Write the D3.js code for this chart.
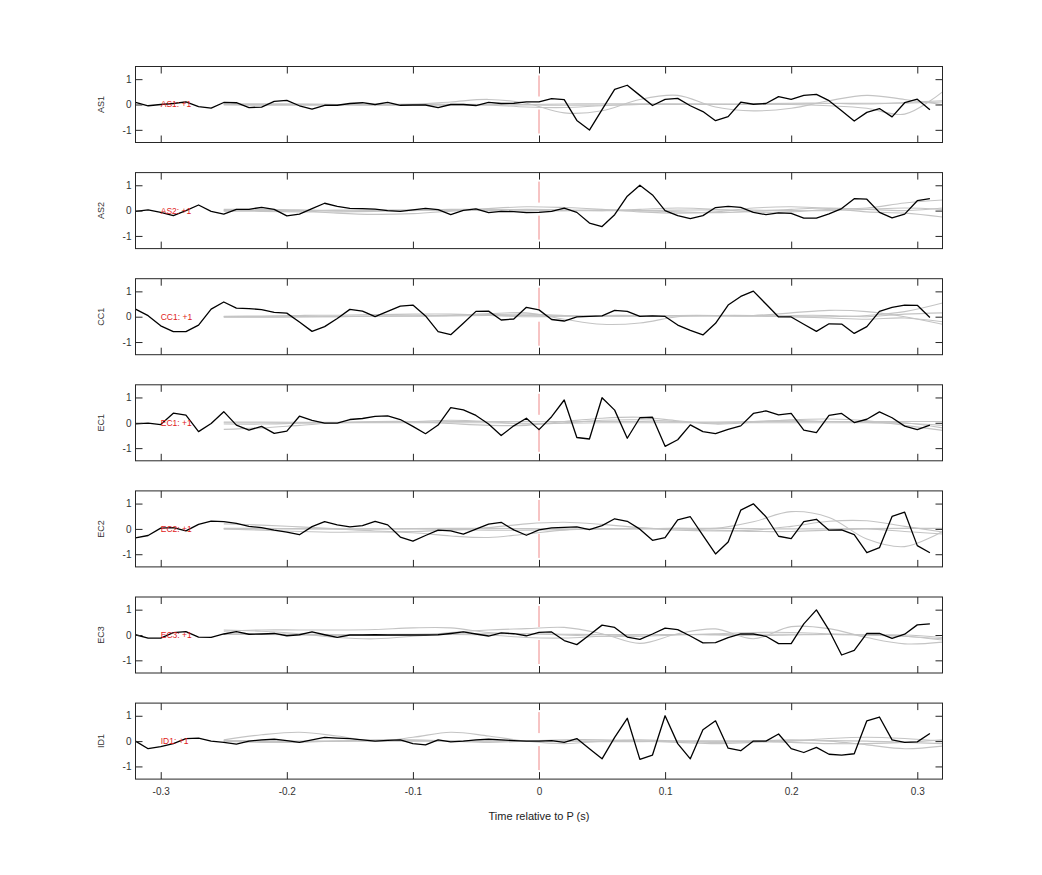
<!DOCTYPE html>
<html><head><meta charset="utf-8">
<script src="https://cdn.jsdelivr.net/npm/d3@7"></script>
<style>body{margin:0;background:#fff;} svg{display:block;font-family:"Liberation Sans",Arial,Helvetica,sans-serif;}</style>
</head><body><svg id="c" width="1042" height="875"></svg>
<script>
const channels = ["AS1","AS2","CC1","EC1","EC2","EC3","ID1"];
const xTicks = [-0.3,-0.2,-0.1,0,0.1,0.2,0.3];
const xTickLabels = ["-0.3","-0.2","-0.1","0","0.1","0.2","0.3"];
const yTicks = [-1,0,1];
const yTickLabels = ["-1","0","1"];
const xTitle = "Time relative to P (s)";

const times = [-0.32,-0.31,-0.30,-0.29,-0.28,-0.27,-0.26,-0.25,-0.24,-0.23,-0.22,-0.21,-0.20,-0.19,-0.18,-0.17,-0.16,-0.15,-0.14,-0.13,-0.12,-0.11,-0.10,-0.09,-0.08,-0.07,-0.06,-0.05,-0.04,-0.03,-0.02,-0.01,
 0.00,0.01,0.02,0.03,0.04,0.05,0.06,0.07,0.08,0.09,0.10,0.11,0.12,0.13,0.14,0.15,0.16,0.17,0.18,0.19,0.20,0.21,0.22,0.23,0.24,0.25,0.26,0.27,0.28,0.29,0.30,0.31];

const blackAS1 = [0.08,-0.05,0,0.04,0.1,-0.08,-0.14,0.08,0.07,-0.12,-0.1,0.12,0.16,-0.05,-0.18,-0.03,-0.03,0.04,0.07,0,0.08,-0.03,-0.02,-0.02,-0.12,0,0,-0.04,0.08,0.04,0.05,0.1,
 0.1,0.23,0.19,-0.63,-1.01,-0.2,0.6,0.76,0.36,-0.04,0.2,0.24,-0.05,-0.28,-0.64,-0.48,0.09,0.01,0.04,0.31,0.2,0.36,0.4,0.15,-0.25,-0.65,-0.31,-0.16,-0.49,0.07,0.21,-0.21];
const blackAS2 = [-0.03,0.03,-0.07,-0.2,0.0,0.22,-0.03,-0.14,0.05,0.05,0.13,0.05,-0.21,-0.14,0.08,0.29,0.17,0.09,0.08,0.06,0.0,-0.03,0.03,0.09,0.04,-0.16,0.01,0.07,-0.08,-0.03,-0.04,-0.08,
 -0.07,-0.03,0.1,-0.07,-0.49,-0.63,-0.16,0.57,1.0,0.62,0.0,-0.2,-0.32,-0.2,0.12,0.17,0.13,-0.07,-0.16,-0.09,-0.11,-0.3,-0.3,-0.13,0.08,0.47,0.45,-0.07,-0.29,-0.14,0.39,0.47];
const blackCC1 = [0.3,0.04,-0.36,-0.59,-0.59,-0.33,0.3,0.58,0.34,0.32,0.28,0.17,0.14,-0.21,-0.58,-0.39,-0.07,0.29,0.22,0.0,0.21,0.42,0.46,0.03,-0.59,-0.71,-0.26,0.21,0.22,-0.13,-0.09,0.37,
 0.27,-0.11,-0.17,-0.01,0.01,0.03,0.25,0.21,0.01,0.03,0.01,-0.33,-0.54,-0.72,-0.26,0.46,0.8,1.01,0.5,-0.01,-0.01,-0.3,-0.58,-0.28,-0.29,-0.66,-0.39,0.21,0.37,0.46,0.45,-0.03];
const blackEC1 = [-0.04,-0.01,-0.07,0.38,0.3,-0.35,-0.03,0.44,-0.09,-0.29,-0.14,-0.42,-0.33,0.26,0.1,-0.01,-0.01,0.13,0.17,0.25,0.27,0.13,-0.14,-0.43,-0.09,0.6,0.51,0.29,-0.05,-0.5,-0.12,0.18,
 -0.27,0.24,0.9,-0.58,-0.64,0.99,0.5,-0.61,0.2,0.22,-0.93,-0.67,-0.08,-0.35,-0.43,-0.26,-0.12,0.37,0.47,0.31,0.37,-0.29,-0.39,0.29,0.37,0.01,0.14,0.43,0.2,-0.13,-0.27,-0.09];
const blackEC2 = [-0.35,-0.26,0.03,0.05,-0.08,0.18,0.31,0.29,0.22,0.1,0.05,-0.05,-0.13,-0.23,0.09,0.29,0.16,0.08,0.13,0.3,0.16,-0.32,-0.48,-0.26,-0.05,-0.08,-0.21,-0.01,0.19,0.26,-0.04,-0.25,
 -0.04,0.04,0.06,0.08,-0.03,0.13,0.4,0.3,-0.01,-0.45,-0.34,0.36,0.48,-0.26,-0.99,-0.52,0.74,0.99,0.48,-0.29,-0.38,0.29,0.38,-0.05,-0.04,-0.23,-0.94,-0.74,0.49,0.66,-0.66,-0.94];
const blackEC3 = [0.01,-0.12,-0.12,0.09,0.13,-0.08,-0.09,0.04,0.13,0.03,0.04,0.06,-0.03,0.01,0.12,0.01,-0.09,0.0,0.0,0.01,0.0,0.0,0.0,0.0,0.01,0.06,0.12,0.04,-0.04,0.08,0.05,-0.03,
 0.1,0.12,-0.22,-0.38,0.0,0.39,0.3,-0.08,-0.17,0.04,0.27,0.21,-0.04,-0.31,-0.3,-0.1,0.04,0.04,-0.05,-0.34,-0.34,0.44,0.99,0.19,-0.79,-0.61,0.06,0.06,-0.13,0.03,0.4,0.44];
const blackID1 = [0.0,-0.3,-0.22,-0.1,0.1,0.12,0.0,-0.05,-0.12,0.0,0.05,0.08,0.02,-0.05,0.05,0.15,0.12,0.1,0.05,0.0,0.03,0.05,-0.1,-0.15,0.05,-0.03,0.0,0.05,0.08,0.05,0.02,0.0,
 0.0,0.02,-0.05,0.1,-0.3,-0.7,0.15,0.9,-0.72,-0.55,1.0,-0.1,-0.7,0.45,0.8,-0.28,-0.38,0.0,0.0,0.28,-0.3,-0.45,-0.25,-0.52,-0.55,-0.5,0.8,0.95,0.05,-0.05,-0.03,0.3];

const grayTimes = [-0.25,-0.22,-0.19,-0.16,-0.13,-0.10,-0.07,-0.04,-0.01,0.02,0.05,0.08,0.11,0.14,0.17,0.20,0.23,0.26,0.29,0.32];

const grayAS1 = [
 [0,0.02,0.02,0,-0.03,0,0.1,0.2,0.05,-0.33,-0.25,0.2,0.36,-0.1,-0.25,-0.15,0.15,0.36,0.2,0.0],
 [0,0,0,0,0,0,0,-0.02,-0.1,-0.12,-0.05,0,0.02,0.02,0,0,-0.05,-0.15,-0.38,0.5],
 [0.02,0.02,0.01,0,-0.02,-0.03,-0.03,-0.02,0,0.02,0.03,0.03,0.02,0,0,0.02,0.04,0.05,0.05,0.1],
 [-0.02,-0.03,-0.03,-0.02,0,0.02,0.01,0,-0.02,-0.03,-0.02,0,0,0.01,0.03,0.05,0.05,0.02,0.08,0.15]];
const grayAS2 = [
 [0,0.02,0,-0.1,-0.15,-0.12,-0.02,0.08,0.15,0.12,0.05,-0.05,-0.1,-0.05,0.1,0.15,0.08,-0.05,-0.1,-0.25],
 [0.05,0.05,0.03,0,0,0.02,0.05,0.05,0.02,0,0,0.05,0.1,0.05,-0.05,-0.05,0.05,0.1,0.3,0.42],
 [-0.02,-0.03,-0.05,-0.05,-0.03,0,0.02,0,-0.02,0,0.03,0,-0.05,-0.08,-0.03,0.05,0.1,0.05,0,0.1],
 [0.02,0,0,0.02,0.03,0.02,0,0.02,0.05,0.03,0,0,0.02,0.03,0.02,0,0,0.05,0.1,0.05]];
const grayCC1 = [
 [0,0,0.01,0.02,0.02,0.03,0.05,0.12,0.15,-0.1,-0.3,-0.25,0.0,0.05,0.05,0.0,0.0,0.05,0.2,0.54],
 [0,0,0,0,0.02,0.03,0.03,0.05,0.05,0.03,0.02,0.02,0.03,0.05,0.05,0.15,0.25,0.2,0.0,-0.3],
 [-0.02,-0.02,-0.01,0,0.02,0.03,0.05,0.08,0.1,0.05,0.02,0.03,0.05,0.05,0.03,0,-0.05,-0.1,-0.05,-0.2],
 [0.02,0.03,0.05,0.06,0.08,0.1,0.1,0.05,0,0.02,0.05,0.05,0.03,0.02,0.02,0.05,0.05,0,0.1,0.15]];
const grayEC1 = [
 [-0.26,-0.2,-0.1,0,0.05,0.05,-0.03,-0.1,-0.1,0.05,0.18,0.22,0.08,-0.05,0.02,0.12,0.15,0.08,-0.1,-0.3],
 [-0.05,-0.05,-0.02,0,0.02,0.05,0.1,0.05,-0.05,0,0.1,0.12,0.05,-0.02,0.05,0.1,0.05,0.02,0,-0.2],
 [0.03,0.03,0.02,0.02,0.03,0.03,0.05,0.05,0.05,0.05,0.05,0.05,0.03,0.03,0.05,0.05,0.05,0.05,0.05,0.05],
 [0,0,0,0,0,0,0,0,-0.02,-0.02,0,0,0,0,0,0,0,0,-0.02,-0.1]];
const grayEC2 = [
 [0,0,0,0,0,0,-0.02,-0.05,-0.05,-0.03,0,0,0.02,0.02,0.28,0.68,0.45,-0.4,-0.7,-0.1],
 [0.2,0.15,0.08,0,-0.08,-0.1,-0.05,0.05,0.2,0.26,0.18,0.05,-0.05,-0.08,-0.05,0.1,0.3,0.32,0.1,-0.12],
 [0,-0.05,-0.1,-0.13,-0.12,-0.15,-0.28,-0.34,-0.2,-0.05,0,0.02,0,-0.05,-0.1,-0.1,-0.05,0,-0.1,-0.2],
 [0.02,0.02,0.01,0,0,0.01,0.02,0.02,0.01,0,0,0.01,0.02,0.02,0.01,0,0,0.01,0.02,0.02]];
const grayEC3 = [
 [0.2,0.15,0.05,-0.1,-0.15,-0.05,0.1,0.2,0.25,0.3,0.05,-0.33,0.05,0.24,-0.15,0.33,0.25,-0.1,-0.35,-0.28],
 [0.15,0.2,0.2,0.2,0.22,0.28,0.28,0.1,0.05,0.0,-0.05,-0.05,0.0,0.05,0.1,0.1,0.05,0,-0.05,-0.15],
 [0.02,0.02,0,-0.02,-0.02,0,0.02,0,-0.1,-0.12,-0.05,0,0.02,0,-0.02,0,0.02,0,0,-0.1],
 [0.05,0.05,0.03,0.02,0.02,0.03,0.05,0.05,0.05,0.03,0.02,0.02,0.02,0.02,0.03,0.03,0.02,0,-0.05,-0.2]];
const grayID1 = [
 [0.05,0.25,0.35,0.2,0.0,0.15,0.35,0.2,0.0,-0.1,0,0.05,0,-0.05,0,0.05,0,-0.15,-0.3,-0.2],
 [0,-0.05,-0.05,0,0.05,0.05,0,-0.05,0,0.05,0.05,0,-0.05,-0.1,-0.05,0,0.1,0.15,0.1,0],
 [0.02,0.02,0,0,0,0,0,0.02,0.02,0,0,0,0,0,0,0.02,0.02,0,-0.05,-0.1],
 [0,-0.02,-0.02,0,0.02,0.02,0,0,0,0,-0.02,-0.02,0,0,0,-0.05,-0.1,-0.1,-0.05,0.05]];

const blackSeries = [blackAS1,blackAS2,blackCC1,blackEC1,blackEC2,blackEC3,blackID1];
const graySeries = [grayAS1,grayAS2,grayCC1,grayEC1,grayEC2,grayEC3,grayID1];

const svg = d3.select("#c");
const x = d3.scaleLinear().domain([-0.32,0.32]).range([135.5,942.5]);
const panelH = 76, panelTop0 = 66.5, panelStep = 106.1;
const axisColor = "#262626";

channels.forEach((ch,i)=>{
  const top = panelTop0 + i*panelStep;
  const y = d3.scaleLinear().domain([-1.5,1.5]).range([top+panelH, top]);
  const g = svg.append("g");

  // grey curves
  const gl = d3.line().x((d,k)=>x(grayTimes[k])).y(d=>y(d)).curve(d3.curveCatmullRom.alpha(0.5));
  graySeries[i].forEach(s=>{
    g.append("path").attr("d", gl(s)).attr("fill","none").attr("stroke","#c4c4c4").attr("stroke-width",1.1);
  });

  // red dashed zero line
  g.append("line").attr("x1",x(0)).attr("x2",x(0)).attr("y1",y(1.5)).attr("y2",y(-1.5))
    .attr("stroke","#ee8888").attr("stroke-width",1).attr("stroke-dasharray","0,9,21,13,24,9");

  // black line
  const bl = d3.line().x((d,k)=>x(times[k])).y(d=>y(d));
  g.append("path").attr("d", bl(blackSeries[i])).attr("fill","none").attr("stroke","#000").attr("stroke-width",1.3).attr("stroke-linejoin","round");

  // red label
  g.append("text").attr("x", x(-0.3)).attr("y", y(0)).attr("dy","0.35em")
    .attr("font-size","8.5px").attr("fill","#e02020").text(ch + ": +1");

  // axes
  const ax = [
    d3.axisBottom(x).tickValues(xTicks).tickSize(-7).tickPadding(9)
      .tickFormat((d,k)=> i===channels.length-1 ? xTickLabels[k] : ""),
    d3.axisTop(x).tickValues(xTicks).tickSize(-7).tickFormat(""),
    d3.axisLeft(y).tickValues(yTicks).tickSize(-7).tickPadding(4).tickFormat((d,k)=>yTickLabels[k]),
    d3.axisRight(y).tickValues(yTicks).tickSize(-7).tickFormat("")
  ];
  const pos = [[0, top+panelH],[0, top],[x.range()[0],0],[x.range()[1],0]];
  ax.forEach((a,k)=>{
    const ag = g.append("g").attr("transform",`translate(${pos[k][0]},${pos[k][1]})`).call(a);
    ag.select(".domain").remove();
    ag.selectAll(".tick line").attr("stroke",axisColor);
    ag.selectAll(".tick text").attr("fill","#333").attr("font-size","10px").attr("font-family","inherit");
  });

  g.append("rect").attr("x",x.range()[0]).attr("y",top).attr("width",x.range()[1]-x.range()[0]).attr("height",panelH)
    .attr("fill","none").attr("stroke",axisColor).attr("stroke-width",1);

  // channel label
  g.append("text").attr("transform",`translate(104,${top+panelH/2}) rotate(-90)`)
    .attr("text-anchor","middle").attr("font-size","9px").attr("fill","#333").text(ch);
});

svg.append("text").attr("x", x(0)).attr("y", panelTop0 + 6*panelStep + panelH + 41)
  .attr("text-anchor","middle").attr("font-size","11px").attr("fill","#222").text(xTitle);
</script></body></html>
